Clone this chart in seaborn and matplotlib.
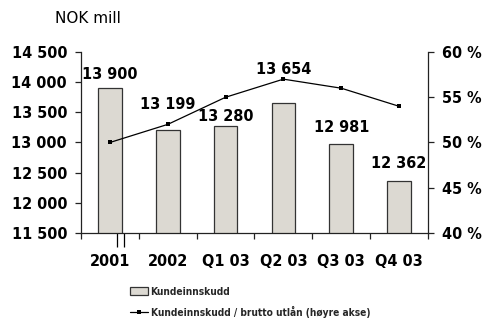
import matplotlib
matplotlib.use("Agg")
import matplotlib.pyplot as plt
import matplotlib.ticker as mticker
from matplotlib.lines import Line2D
from matplotlib.patches import Patch
import seaborn as sns
import pandas as pd

# Data
periods = ["2001", "2002", "Q1 03", "Q2 03", "Q3 03", "Q4 03"]
deposits = [13900, 13199, 13280, 13654, 12981, 12362]          # NOK mill
deposit_ratio = [50, 52, 55, 57, 56, 54]                        # % of gross lending
label_offsets = [4.5, 13, 1.5, 19, 6.5, 7.5]                    # label lift above bar, points

bar_label = "Kundeinnskudd"
line_label = "Kundeinnskudd / brutto utlån (høyre akse)"

df = pd.DataFrame({"period": periods, "deposits": deposits, "ratio": deposit_ratio})

sns.set_theme(style="white")
plt.rcParams["font.family"] = ["DejaVu Sans"]

BIG = dict(fontsize=11.6, fontweight="bold", fontstretch="condensed", color="black")

fig = plt.figure(figsize=(4.88, 3.2), dpi=100)
ax = fig.add_axes([0.166, 0.272, 0.711, 0.5655])

bar_color = "#dcd9d2"
sns.barplot(data=df, x="period", y="deposits", color=bar_color, width=0.41,
            edgecolor="#333333", linewidth=0.9, saturation=1, ax=ax)

ax.set_ylim(11500, 14500)
ax.set_yticks(range(11500, 14501, 500))
ax.yaxis.set_major_formatter(mticker.FuncFormatter(lambda v, p: f"{int(v):,}".replace(",", " ")))
ax.set_xlabel("")
ax.set_ylabel("")
ax.tick_params(axis="y", which="major", direction="out", length=4, width=0.9,
               pad=6, colors="#222222", labelcolor="black", left=True)
for lbl in ax.get_yticklabels():
    lbl.set(**BIG)

# Category ticks between bars
ax.set_xticks(range(len(periods)))
ax.set_xticklabels(periods)
for lbl in ax.get_xticklabels():
    lbl.set(**BIG)
ax.tick_params(axis="x", which="major", length=0, pad=15)
ax.set_xticks([i + 0.5 for i in range(-1, len(periods))], minor=True)
ax.tick_params(axis="x", which="minor", direction="out", length=4.5, width=0.9,
               colors="#222222", bottom=True)
ax.set_xlim(-0.5, len(periods) - 0.5)

for s in ["top", "right"]:
    ax.spines[s].set_visible(False)
for s in ["left", "bottom"]:
    ax.spines[s].set_color("#222222")
    ax.spines[s].set_linewidth(0.9)

# Small marks under the first category
trans = matplotlib.transforms.blended_transform_factory(ax.transData, ax.transAxes)
ax.vlines([0.116, 0.247], -0.075, 0.0, transform=trans, colors="black",
          linewidth=0.9, clip_on=False)

# Value labels above bars
for i, (v, off) in enumerate(zip(deposits, label_offsets)):
    ax.annotate(f"{v:,}".replace(",", " "), (i, v), xytext=(0, off),
                textcoords="offset points", ha="center", va="bottom", **BIG)

# Ratio on the right axis
ax2 = ax.twinx()
sns.lineplot(x=list(range(len(periods))), y=deposit_ratio, ax=ax2, color="black",
             linewidth=0.9, marker="s", markersize=3.5, markeredgewidth=0)
ax2.set_ylim(40, 60)
ax2.set_yticks(range(40, 61, 5))
ax2.yaxis.set_major_formatter(mticker.FuncFormatter(lambda v, p: f"{int(v)} %"))
ax2.tick_params(axis="y", direction="out", length=4, width=0.9, pad=6,
                colors="#222222", labelcolor="black", right=True)
for lbl in ax2.get_yticklabels():
    lbl.set(**BIG)
for s in ["top", "left", "bottom"]:
    ax2.spines[s].set_visible(False)
ax2.spines["right"].set_color("#222222")
ax2.spines["right"].set_linewidth(0.9)
ax2.set_ylabel("")
ax2.set_xlim(-0.5, len(periods) - 0.5)

fig.text(0.113, 0.942, "NOK mill", fontsize=11, ha="left", va="center", color="black")

handles = [
    Patch(facecolor=bar_color, edgecolor="#333333", linewidth=0.9, label=bar_label),
    Line2D([0], [0], color="black", linewidth=0.9, marker="s", markersize=3.5,
           markeredgewidth=0, label=line_label),
]
fig.legend(handles=handles, loc="upper left", bbox_to_anchor=(0.266, 0.104),
           frameon=False, prop=dict(size=7.3, weight="bold", stretch="condensed"),
           handlelength=1.75, handleheight=0.75, handletextpad=0.3, labelspacing=0.9,
           borderpad=0, borderaxespad=0)

fig.savefig("out.png", dpi=100)
